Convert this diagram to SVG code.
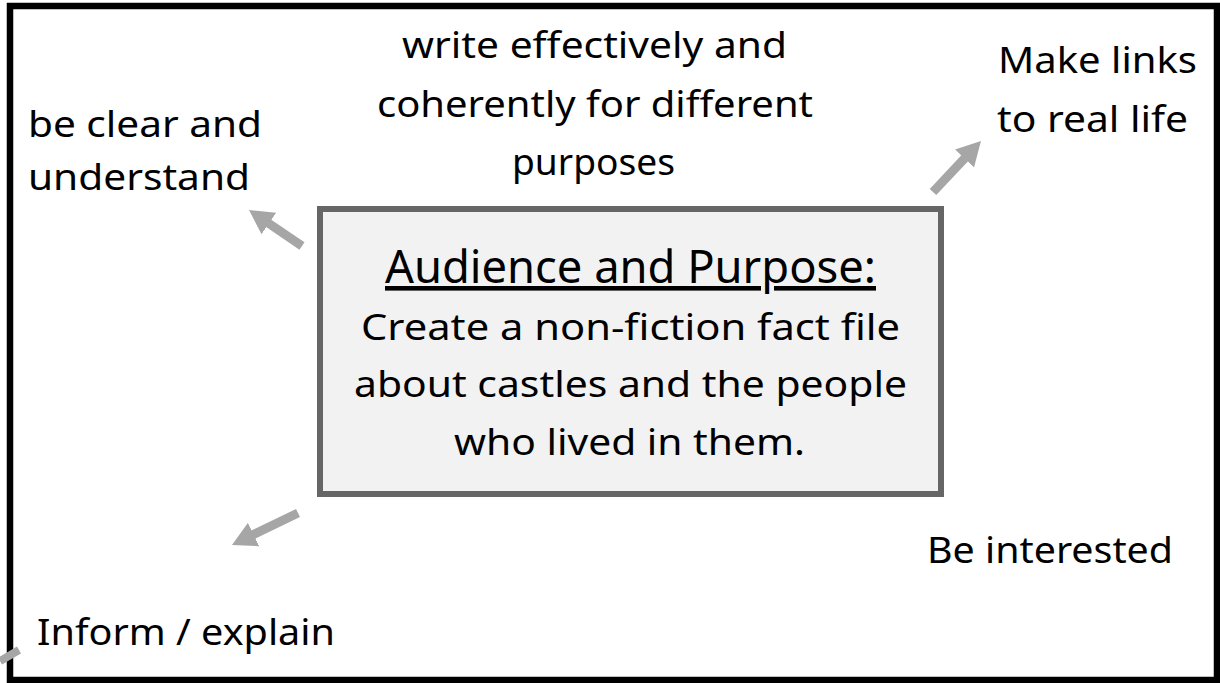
<svg xmlns="http://www.w3.org/2000/svg" width="1220" height="683" viewBox="0 0 1220 683">
<style>
.t{font-family:"Noto Sans","Open Sans",sans-serif;font-size:37px;fill:#000}
.title{font-family:"Noto Sans","Open Sans",sans-serif;font-size:46px;fill:#000;text-decoration:underline}
.arr{stroke:#a6a6a6;stroke-width:9;fill:none;marker-end:url(#ah)}
</style>
<defs>
<marker id="ah" markerUnits="userSpaceOnUse" markerWidth="24" markerHeight="26" viewBox="0 0 24 26" refX="10" refY="13" orient="auto">
<path d="M0,0 L24,13 L0,26 z" fill="#a6a6a6"/>
</marker>
</defs>
<rect x="0" y="0" width="1220" height="683" fill="#fff"/>
<rect id="frame" x="10" y="6" width="1207" height="674" fill="none" stroke="#000" stroke-width="6.5"/>
<g id="connectors">
<line class="arr" x1="302" y1="246" x2="260.6" y2="217.9"/>
<line class="arr" x1="933" y1="192" x2="971.4" y2="151.2"/>
<line class="arr" x1="298" y1="513" x2="244.6" y2="538.9"/>
<line x1="0" y1="661" x2="19" y2="650" stroke="#a6a6a6" stroke-width="8"/>
</g>
<g id="center">
<rect x="320" y="209" width="621" height="285" fill="#f2f2f2" stroke="#666" stroke-width="6"/>
<text class="title" x="630.5" y="283" text-anchor="middle" textLength="491" lengthAdjust="spacingAndGlyphs">Audience and Purpose:</text>
<text class="t" x="630.5" y="340" text-anchor="middle" textLength="539" lengthAdjust="spacingAndGlyphs">Create a non-fiction fact file</text>
<text class="t" x="630.5" y="397" text-anchor="middle" textLength="553" lengthAdjust="spacingAndGlyphs">about castles and the people</text>
<text class="t" x="629.5" y="455" text-anchor="middle" textLength="351" lengthAdjust="spacingAndGlyphs">who lived in them.</text>
</g>
<g id="top">
<text class="t" x="594.5" y="58" text-anchor="middle" textLength="385" lengthAdjust="spacingAndGlyphs">write effectively and</text>
<text class="t" x="595" y="117" text-anchor="middle" textLength="436" lengthAdjust="spacingAndGlyphs">coherently for different</text>
<text class="t" x="593.5" y="175" text-anchor="middle" textLength="163" lengthAdjust="spacingAndGlyphs">purposes</text>
</g>
<g id="left">
<text class="t" x="28" y="137" textLength="234" lengthAdjust="spacingAndGlyphs">be clear and</text>
<text class="t" x="28" y="190" textLength="222" lengthAdjust="spacingAndGlyphs">understand</text>
</g>
<g id="right">
<text class="t" x="998" y="73" textLength="199" lengthAdjust="spacingAndGlyphs">Make links</text>
<text class="t" x="997" y="132" textLength="191" lengthAdjust="spacingAndGlyphs">to real life</text>
</g>
<g id="interested">
<text class="t" x="927" y="563" textLength="246" lengthAdjust="spacingAndGlyphs">Be interested</text>
</g>
<g id="inform">
<text class="t" x="37" y="645" textLength="298" lengthAdjust="spacingAndGlyphs">Inform / explain</text>
</g>
</svg>
